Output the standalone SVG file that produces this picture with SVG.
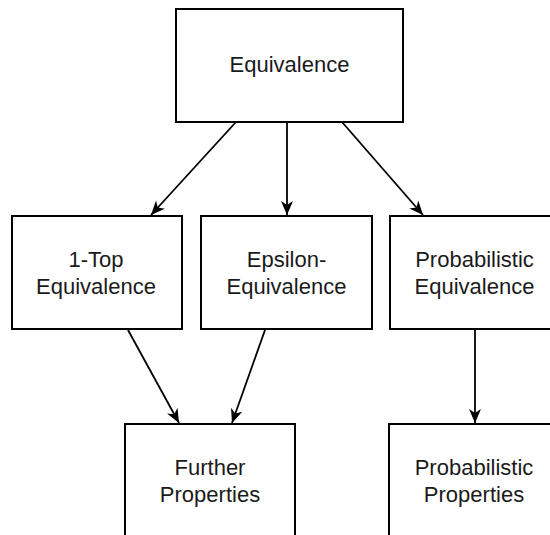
<svg xmlns="http://www.w3.org/2000/svg" width="550" height="535" viewBox="0 0 550 535">
<style>
.box{fill:#ffffff;stroke:#000000;stroke-width:2}
.lbl{font-family:"Liberation Sans",Arial,sans-serif;font-size:22px;fill:#1a1a1a;text-anchor:middle}
.edge{fill:none;stroke:#000000;stroke-width:1.8;marker-end:url(#arr)}
</style>
<defs>
<marker id="arr" markerUnits="userSpaceOnUse" markerWidth="15" markerHeight="13" refX="14" refY="6.5" orient="auto">
<path d="M0,0.5 L14,6.5 L0,12.5 L4,6.5 Z" fill="#000000"/>
</marker>
</defs>
<rect width="550" height="535" fill="#ffffff"/>
<g id="equivalence">
<rect class="box" x="176" y="9" width="227" height="113"/>
<text class="lbl" x="289.5" y="72">Equivalence</text>
</g>
<g id="one-top">
<rect class="box" x="12" y="216" width="170" height="113"/>
<text class="lbl" x="96" y="267">1-Top</text>
<text class="lbl" x="96" y="294">Equivalence</text>
</g>
<g id="epsilon">
<rect class="box" x="201" y="216" width="171" height="113"/>
<text class="lbl" x="286.5" y="267">Epsilon-</text>
<text class="lbl" x="286.5" y="294">Equivalence</text>
</g>
<g id="probabilistic-eq">
<rect class="box" x="390" y="216" width="170" height="113"/>
<text class="lbl" x="474.5" y="267">Probabilistic</text>
<text class="lbl" x="474.5" y="294">Equivalence</text>
</g>
<g id="further">
<rect class="box" x="125" y="424" width="170" height="113"/>
<text class="lbl" x="210" y="475">Further</text>
<text class="lbl" x="210" y="502">Properties</text>
</g>
<g id="probabilistic-props">
<rect class="box" x="389" y="424" width="170" height="113"/>
<text class="lbl" x="474" y="475">Probabilistic</text>
<text class="lbl" x="474" y="502">Properties</text>
</g>
<g id="connectors">
<line class="edge" x1="236" y1="122" x2="151" y2="215"/>
<line class="edge" x1="287" y1="122" x2="287" y2="215"/>
<line class="edge" x1="342" y1="122" x2="423" y2="215"/>
<line class="edge" x1="128" y1="330" x2="179" y2="423"/>
<line class="edge" x1="265" y1="330" x2="232" y2="423"/>
<line class="edge" x1="475" y1="330" x2="475" y2="423"/>
</g>
</svg>
